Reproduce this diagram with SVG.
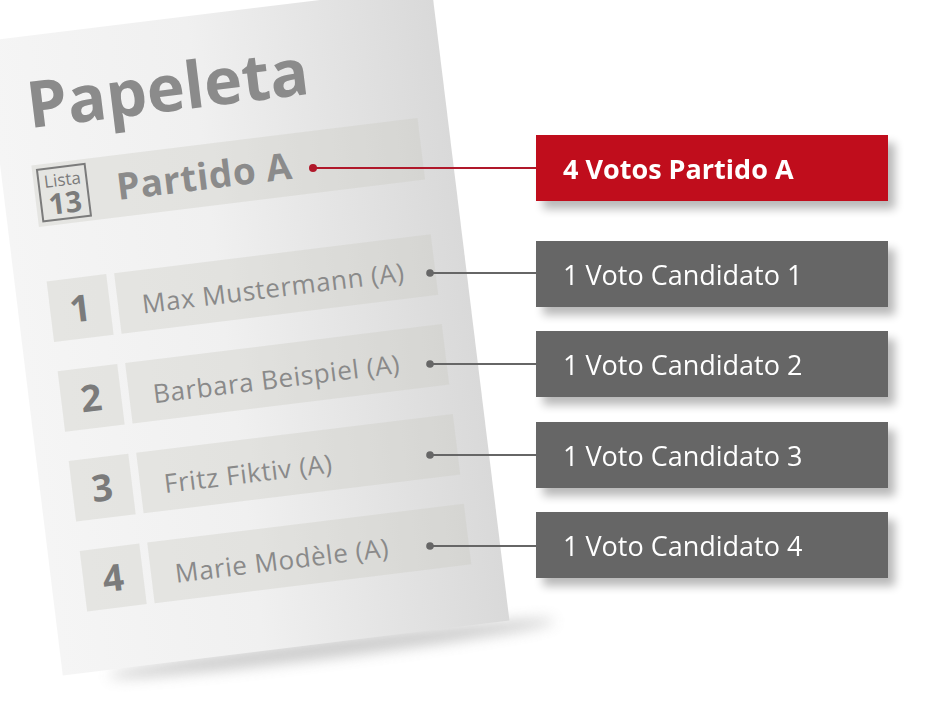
<svg xmlns="http://www.w3.org/2000/svg" width="944" height="708" viewBox="0 0 944 708">
  <defs>
    <linearGradient id="paperGrad" gradientUnits="userSpaceOnUse" x1="-20" y1="0" x2="430" y2="0">
      <stop offset="0" stop-color="#f5f5f5"/>
      <stop offset="0.45" stop-color="#f0f0f0"/>
      <stop offset="1" stop-color="#d9d9d9"/>
    </linearGradient>
    <filter id="paperShadow" x="-30%" y="-200%" width="160%" height="500%">
      <feGaussianBlur stdDeviation="7"/>
    </filter>
    <filter id="boxShadow" x="-10%" y="-30%" width="130%" height="170%">
      <feGaussianBlur in="SourceAlpha" stdDeviation="5"/>
      <feOffset dx="7" dy="8" result="b"/>
      <feComponentTransfer><feFuncA type="linear" slope="0.28"/></feComponentTransfer>
      <feMerge><feMergeNode/><feMergeNode in="SourceGraphic"/></feMerge>
    </filter>
    <style>
      .bar { fill: #c9c9c1; fill-opacity: 0.36; }
      .num { font-family: "Open Sans", "Noto Sans", sans-serif; font-weight: 700; font-size: 37px; fill: #7b7b7b; text-anchor: middle; }
      .name { font-family: "Open Sans", "Noto Sans", sans-serif; font-size: 26px; letter-spacing: 0.6px; fill: #8a8a8a; }
      .boxtxt { font-family: "Open Sans", "Noto Sans", sans-serif; font-size: 27px; fill: #ffffff; }
      .red { fill: #c0111a; }
      .gray { fill: #666666; }
      .lineRed { stroke: #b0182a; stroke-width: 2; fill: none; }
      .lineGray { stroke: #666666; stroke-width: 2; fill: none; }
    </style>
  </defs>

  <rect x="0" y="0" width="944" height="708" fill="#ffffff"/>

  <!-- Ballot paper -->
  <g id="paper" transform="rotate(-7)">
    <ellipse cx="250" cy="684" rx="225" ry="9" fill="#8a8a8a" opacity="0.45" filter="url(#paperShadow)"/>
    <rect x="-20" y="39" width="450" height="639" fill="url(#paperGrad)"/>
    <text x="14" y="131" font-family="Open Sans, Noto Sans, sans-serif" font-weight="700" font-size="64.5" fill="#8b8b8b">Papeleta</text>

    <g id="party">
      <rect class="bar" x="11" y="168" width="389" height="62"/>
      <rect x="16" y="173" width="48" height="52" fill="none" stroke="#7b7b7b" stroke-width="2"/>
      <text x="40" y="192" font-family="Open Sans, Noto Sans, sans-serif" font-size="17" fill="#7b7b7b" text-anchor="middle">Lista</text>
      <text x="40" y="219.5" font-family="Open Sans, Noto Sans, sans-serif" font-weight="700" font-size="29" fill="#7b7b7b" text-anchor="middle">13</text>
      <text x="93" y="213" font-family="Open Sans, Noto Sans, sans-serif" font-weight="700" font-size="37" letter-spacing="0.6" fill="#8b8b8b">Partido A</text>
    </g>

    <g id="row1">
      <rect class="bar" x="12" y="285" width="60" height="61"/>
      <rect class="bar" x="80" y="285" width="319" height="61"/>
      <text class="num" x="42" y="329">1</text>
      <text class="name" x="104" y="328.5">Max Mustermann (A)</text>
    </g>
    <g id="row2">
      <rect class="bar" x="12" y="375.5" width="60" height="61"/>
      <rect class="bar" x="80" y="375.5" width="319" height="61"/>
      <text class="num" x="42" y="419.5">2</text>
      <text class="name" x="104" y="419">Barbara Beispiel (A)</text>
    </g>
    <g id="row3">
      <rect class="bar" x="12" y="466" width="60" height="61"/>
      <rect class="bar" x="80" y="466" width="319" height="61"/>
      <text class="num" x="42" y="510">3</text>
      <text class="name" x="104" y="509.5">Fritz Fiktiv (A)</text>
    </g>
    <g id="row4">
      <rect class="bar" x="12" y="556.5" width="60" height="61"/>
      <rect class="bar" x="80" y="556.5" width="319" height="61"/>
      <text class="num" x="42" y="600.5">4</text>
      <text class="name" x="104" y="600">Marie Modèle (A)</text>
    </g>
  </g>

  <!-- Connectors -->
  <g id="connectors">
    <line class="lineRed" x1="313" y1="168" x2="536" y2="168"/>
    <circle cx="313" cy="168" r="4" fill="#b0182a"/>
    <line class="lineGray" x1="430" y1="273" x2="536" y2="273"/>
    <circle cx="430" cy="273" r="3.8" fill="#666666"/>
    <line class="lineGray" x1="430" y1="364" x2="536" y2="364"/>
    <circle cx="430" cy="364" r="3.8" fill="#666666"/>
    <line class="lineGray" x1="430" y1="455" x2="536" y2="455"/>
    <circle cx="430" cy="455" r="3.8" fill="#666666"/>
    <line class="lineGray" x1="430" y1="546" x2="536" y2="546"/>
    <circle cx="430" cy="546" r="3.8" fill="#666666"/>
  </g>

  <!-- Vote boxes -->
  <g id="votesParty" filter="url(#boxShadow)">
    <rect class="red" x="536" y="135" width="352" height="66"/>
    <text class="boxtxt" x="563" y="179" font-weight="700">4 Votos Partido A</text>
  </g>
  <g id="votesCand1" filter="url(#boxShadow)">
    <rect class="gray" x="536" y="241" width="352" height="66"/>
    <text class="boxtxt" x="563" y="285">1 Voto Candidato 1</text>
  </g>
  <g id="votesCand2" filter="url(#boxShadow)">
    <rect class="gray" x="536" y="331" width="352" height="66"/>
    <text class="boxtxt" x="563" y="375">1 Voto Candidato 2</text>
  </g>
  <g id="votesCand3" filter="url(#boxShadow)">
    <rect class="gray" x="536" y="422" width="352" height="66"/>
    <text class="boxtxt" x="563" y="466">1 Voto Candidato 3</text>
  </g>
  <g id="votesCand4" filter="url(#boxShadow)">
    <rect class="gray" x="536" y="512" width="352" height="66"/>
    <text class="boxtxt" x="563" y="556">1 Voto Candidato 4</text>
  </g>
</svg>
